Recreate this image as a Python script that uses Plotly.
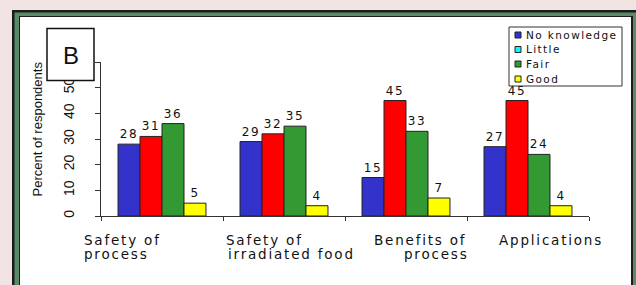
import plotly.graph_objects as go

# ---- data ----
categories = ["Safety of process", "Safety of irradiated food", "Benefits of process", "Applications"]
series_names = ["No knowledge", "Little", "Fair", "Good"]
no_knowledge = [28, 29, 15, 27]
little = [31, 32, 45, 45]
fair = [36, 35, 33, 24]
good = [5, 4, 7, 4]
y_tick_values = [0, 10, 20, 30, 40, 50, 60]
y_tick_labels = ["0", "10", "20", "30", "40", "50", ""]
cat_label_lines = [["Safety of", "process"], ["Safety of", "irradiated food"],
                   ["Benefits of", "process"], ["Applications"]]

bar_colors = ["#3333cc", "#ff0000", "#339933", "#ffff00"]
legend_colors = ["#3333cc", "#00ffff", "#339933", "#ffff00"]

W, H = 636, 285
ML, MR, MT, MB = 101, 47, 62, 69
PW, PH = W - ML - MR, H - MT - MB


def px(x):
    return (x - ML) / PW


def py(y):
    return (H - MB - y) / PH


SP = lambda t, s: f'<span style="letter-spacing:{s}px">{t}</span>'

fig = go.Figure()
for name, vals, col in zip(series_names, [no_knowledge, little, fair, good], bar_colors):
    fig.add_trace(go.Bar(
        x=categories, y=vals, name=name,
        marker=dict(color=col, line=dict(color="#222222", width=1)),
        text=vals, texttemplate=SP("%{y}", 1.5), textposition="outside",
        textfont=dict(family="DejaVu Sans", size=12, color="#111111"),
        cliponaxis=False, showlegend=False,
    ))

shapes = []


def rect(x0, y0, x1, y1, fill, layer="below", line=None):
    return dict(type="rect", xref="paper", yref="paper",
                x0=px(x0), x1=px(x1), y0=py(y0), y1=py(y1),
                fillcolor=fill, layer=layer, line=line or dict(width=0))


# frame
shapes.append(rect(12, 10, 645, 300, "#1c1c1c"))
shapes.append(rect(14.5, 12.5, 645, 300, "#5a8a68"))
shapes.append(rect(19, 16, 633, 300, "#1c1c1c"))
shapes.append(rect(20, 17, 631, 300, "#ffffff"))
# B box
shapes.append(rect(47, 28.5, 94, 80.5, "#ffffff", layer="above",
                   line=dict(color="#111111", width=1.5)))
# legend box
shapes.append(rect(509, 27, 622, 86, "#ffffff", layer="above",
                   line=dict(color="#333333", width=1)))

annotations = []
leg_y = [35, 49.5, 64, 79]
for name, col, yy in zip(series_names, legend_colors, leg_y):
    shapes.append(rect(515, yy - 3, 521, yy + 3, col, layer="above",
                       line=dict(color="#222222", width=1)))
    annotations.append(dict(xref="paper", yref="paper", x=px(525), y=py(yy),
                            xanchor="left", yanchor="middle", showarrow=False,
                            text=SP(name, 1.4), borderpad=0,
                            font=dict(family="DejaVu Sans", size=10.5, color="#111111")))

# B label
annotations.append(dict(xref="paper", yref="paper", x=px(70.5), y=py(55.5),
                        xanchor="center", yanchor="middle", showarrow=False,
                        text="B", font=dict(family="Liberation Sans", size=24, color="#111111")))
# y title
annotations.append(dict(xref="paper", yref="paper", x=px(37), y=py(129.5),
                        xanchor="center", yanchor="middle", showarrow=False, textangle=-90,
                        text="Percent of respondents",
                        font=dict(family="Liberation Sans", size=13, color="#111111")))

# category labels
cat_left = [[83, 83], [225, 226.5], [373, 403], [498]]
line_mid = [240.2, 253.8]
for cat, lines, lefts in zip(categories, cat_label_lines, cat_left):
    for i, (t, lx) in enumerate(zip(lines, lefts)):
        annotations.append(dict(xref="paper", yref="paper", x=px(lx), y=py(line_mid[i]),
                                xanchor="left", yanchor="middle", showarrow=False,
                                text=SP(t, 1.8), borderpad=0,
                                font=dict(family="DejaVu Sans", size=13.5, color="#111111")))

fig.update_layout(
    width=W, height=H,
    margin=dict(l=ML, r=MR, t=MT, b=MB, pad=0),
    paper_bgcolor="#f3e4e4", plot_bgcolor="rgba(0,0,0,0)",
    barmode="group", bargap=0.279, bargroupgap=0,
    shapes=shapes, annotations=annotations,
    showlegend=False,
    xaxis=dict(type="category", range=[-0.5, 3.5], showticklabels=False,
               ticks="outside", tickson="boundaries", ticklen=4, tickcolor="#333333",
               showline=True, linecolor="#333333", linewidth=1,
               showgrid=False, zeroline=False),
    yaxis=dict(range=[0, 60], tickvals=y_tick_values, ticktext=y_tick_labels,
               tickangle=-90, ticks="outside", ticklen=5, tickcolor="#333333",
               ticklabelstandoff=15,
               tickfont=dict(family="Liberation Sans", size=14, color="#111111"),
               showline=True, linecolor="#333333", linewidth=1,
               showgrid=False, zeroline=False),
)

fig.write_html("out.html", config={"displayModeBar": False},
               post_script="document.body.style.margin='0';document.body.style.overflow='hidden';")
